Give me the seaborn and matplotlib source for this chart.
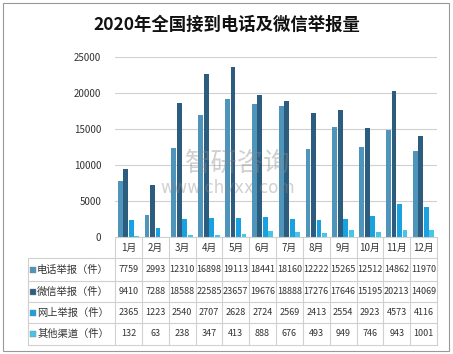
import matplotlib
matplotlib.use("Agg")
import matplotlib.pyplot as plt
import seaborn as sns
import pandas as pd
from matplotlib.patches import Rectangle

months = ["1月", "2月", "3月", "4月", "5月", "6月", "7月", "8月", "9月", "10月", "11月", "12月"]
series_names = ["电话举报（件）", "微信举报（件）", "网上举报（件）", "其他渠道（件）"]
phone = [7759, 2993, 12310, 16898, 19113, 18441, 18160, 12222, 15265, 12512, 14862, 11970]
wechat = [9410, 7288, 18588, 22585, 23657, 19676, 18888, 17276, 17646, 15195, 20213, 14069]
online = [2365, 1223, 2540, 2707, 2628, 2724, 2569, 2413, 2554, 2923, 4573, 4116]
other = [132, 63, 238, 347, 413, 888, 676, 493, 949, 746, 943, 1001]
colors = ["#4f94bb", "#2c5d7f", "#1aa1e0", "#46c6e6"]

sns.set_theme(style="white")
plt.rcParams['font.family'] = ['Noto Sans CJK SC', 'DejaVu Sans']

rows = []
for name, vals in zip(series_names, [phone, wechat, online, other]):
    for m, v in zip(months, vals):
        rows.append({"月份": m, "渠道": name, "数量": v})
df = pd.DataFrame(rows)

fig = plt.figure(figsize=(4.53, 3.54), dpi=100)
W, H = 453, 354
ax_l, ax_r, ax_t, ax_b = 115, 437, 57, 237
ax = fig.add_axes([ax_l / W, 1 - ax_b / H, (ax_r - ax_l) / W, (ax_b - ax_t) / H])

sns.barplot(data=df, x="月份", y="数量", hue="渠道", palette=colors, ax=ax,
            width=0.82, gap=0.1, legend=False, saturation=1, edgecolor="none")
ax.set_ylim(0, 25000)
ax.set_xlim(-0.5, 11.5)
ax.set_yticks([0, 5000, 10000, 15000, 20000, 25000])
ax.set_yticklabels(["0", "5000", "10000", "15000", "20000", "25000"], fontsize=7, color="#333333")
ax.tick_params(axis="y", length=0, pad=10)
ax.set_xticks([])
ax.set_xlabel("")
ax.set_ylabel("")
ax.yaxis.grid(True, color="#d0d0d0", linewidth=0.8)
ax.set_axisbelow(True)
for s in ax.spines.values():
    s.set_visible(False)

# watermark
ax.text(0.38, 0.41, "智研咨询", transform=ax.transAxes, fontsize=19, color="#8a8a8a",
        alpha=0.4, ha="center", va="center")
ax.text(0.35, 0.27, "www.chyxx.com", transform=ax.transAxes, fontsize=12, color="#8a8a8a",
        alpha=0.4, ha="center", va="center", family=["DejaVu Sans"])

# data table
tab_l = 28
col_w = (ax_r - ax_l) / 12
row_y = [237, 258, 281, 302, 323, 345]
line_c = "#d0d0d0"

def fx(px):
    return px / W

def fy(py):
    return 1 - py / H

for i, y in enumerate(row_y):
    x0 = ax_l if i == 0 else tab_l
    fig.add_artist(plt.Line2D([fx(x0), fx(ax_r)], [fy(y), fy(y)], color=line_c, lw=0.8))
for j in range(13):
    x = ax_l + j * col_w
    fig.add_artist(plt.Line2D([fx(x), fx(x)], [fy(row_y[0]), fy(row_y[-1])], color=line_c, lw=0.8))
fig.add_artist(plt.Line2D([fx(tab_l), fx(tab_l)], [fy(row_y[1]), fy(row_y[-1])], color=line_c, lw=0.8))

for j, m in enumerate(months):
    fig.text(fx(ax_l + (j + 0.5) * col_w), fy((row_y[0] + row_y[1]) / 2), m,
             ha="center", va="center", fontsize=7, color="#333333")

for i, (name, vals) in enumerate(zip(series_names, [phone, wechat, online, other])):
    yc = (row_y[i + 1] + row_y[i + 2]) / 2
    fig.add_artist(Rectangle((fx(tab_l + 2), fy(yc + 3)), 6 / W, 6 / H, facecolor=colors[i],
                             edgecolor="#888888", lw=0.3, transform=fig.transFigure))
    fig.text(fx(tab_l + 9), fy(yc), name, ha="left", va="center", fontsize=7.4, color="#333333")
    for j, v in enumerate(vals):
        fig.text(fx(ax_l + (j + 0.5) * col_w), fy(yc), str(v), ha="center", va="center",
                 fontsize=6.5, color="#333333", family=["Liberation Sans Narrow", "Noto Sans CJK SC", "DejaVu Sans"])

fig.text(0.5, fy(25), "2020年全国接到电话及微信举报量", ha="center", va="center",
         fontsize=12.5, color="#111111", fontweight="bold")

fig.add_artist(Rectangle((3 / W, 1 - 351 / H), 446 / W, 348 / H, facecolor="none",
                         edgecolor="#999999", lw=0.8, transform=fig.transFigure))

fig.savefig("out.png", dpi=100)
